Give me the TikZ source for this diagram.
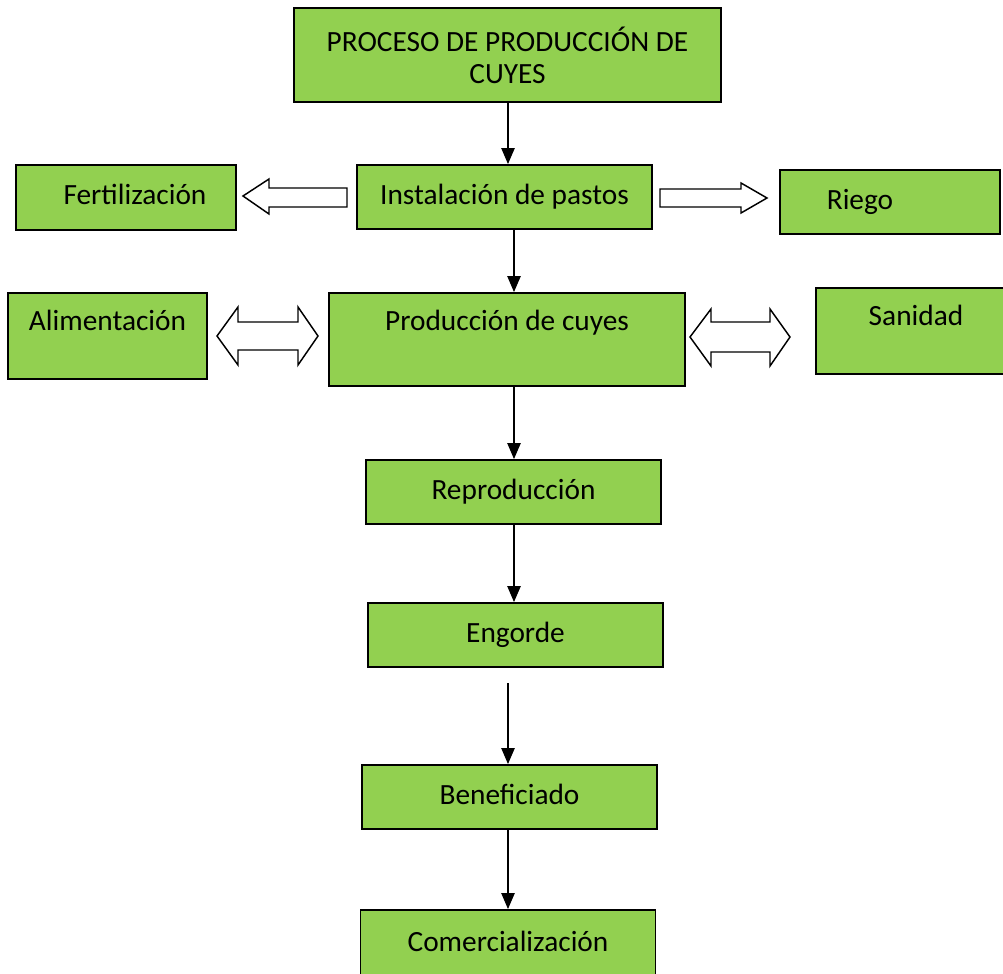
\documentclass[tikz,border=0pt]{standalone}
\usepackage{xcolor}
\usepackage{tikz}
\usepackage{fontspec}
\setmainfont{Carlito}
\usetikzlibrary{arrows.meta}
\definecolor{boxgreen}{HTML}{92D050}

\begin{document}
\begin{tikzpicture}[x=0.75pt, y=-0.75pt, >={Triangle[length=12pt, width=10pt]},
    plain/.style={draw, line width=1.4pt, fill=boxgreen, inner sep=0pt, font=\fontsize{22}{24}\selectfont},
    box/.style={plain, text height=16pt, text depth=5pt},
    wide/.style={box, minimum width=221.25pt, minimum height=48pt},
    link/.style={->, line width=1.1pt},
    hollow/.style={draw, line width=1.1pt, fill=white, line join=miter}]
    \clip (0, 0) rectangle (1003, 974);
    \fill [white] (0, 0) rectangle (1003, 974);
    % main column
    \node [plain, minimum width=320.25pt, minimum height=70.5pt, align=center] (title) at (507.5, 55) {PROCESO DE PRODUCCIÓN DE\\CUYES};
    \node [wide] (inst) at (504.5, 197) {Instalación de pastos};
    \node [box, minimum width=267pt, minimum height=69.75pt, text depth=29.75pt] (prod) at (507, 339.5) {Producción de cuyes};
    \node [wide] (rep) at (513.5, 492) {Reproducción};
    \node [wide] (eng) at (515.5, 635) {Engorde};
    \node [wide] (ben) at (509.5, 797) {Beneficiado};
    \node [wide, minimum height=51pt] (com) at (508, 944) {Comercialización};
    % side boxes
    \node [box, minimum width=165pt, minimum height=48.75pt] (fert) at (126, 197.5) {\hspace*{13.5pt}Fertilización};
    \node [box, minimum width=165pt, minimum height=48pt] (riego) at (890, 202) {Riego\hspace*{45pt}};
    \node [box, minimum width=149.25pt, minimum height=64.5pt, text depth=24.5pt] (alim) at (107.5, 336) {Alimentación};
    \node [box, minimum width=150pt, minimum height=64.5pt, text depth=24.5pt] (sani) at (916, 331) {Sanidad};

    \coordinate (midr) at (514, 0);
    \coordinate (engout) at (508, 683);
    \draw [link] (title.south -| engout) -- (inst.north -| engout);
    \draw [link] (inst.south -| midr) -- (prod.north -| midr);
    \draw [link] (prod.south -| midr) -- (rep.north -| midr);
    \draw [link] (rep.south -| midr) -- (eng.north -| midr);
    \draw [link] (engout) -- (engout |- ben.north);
    \draw [link] (ben.south -| engout) -- (com.north -| engout);

    % block arrows
    \draw [hollow] (243, 196) -- (269, 179) -- (269, 188) -- (347, 188) -- (347, 207) -- (269, 207) -- (269, 214) -- cycle;
    \draw [hollow] (767, 198) -- (741, 183) -- (741, 189) -- (660, 189) -- (660, 207) -- (741, 207) -- (741, 213) -- cycle;
    \draw [hollow] (217, 336) -- (238, 307) -- (238, 322) -- (298, 322) -- (298, 307) -- (318, 336) -- (298, 365) -- (298, 350) -- (238, 350) -- (238, 365) -- cycle;
    \draw [hollow] (690, 337) -- (711, 309) -- (711, 322) -- (770, 322) -- (770, 309) -- (790, 337) -- (770, 366) -- (770, 352) -- (711, 352) -- (711, 366) -- cycle;
\end{tikzpicture}
\end{document}
